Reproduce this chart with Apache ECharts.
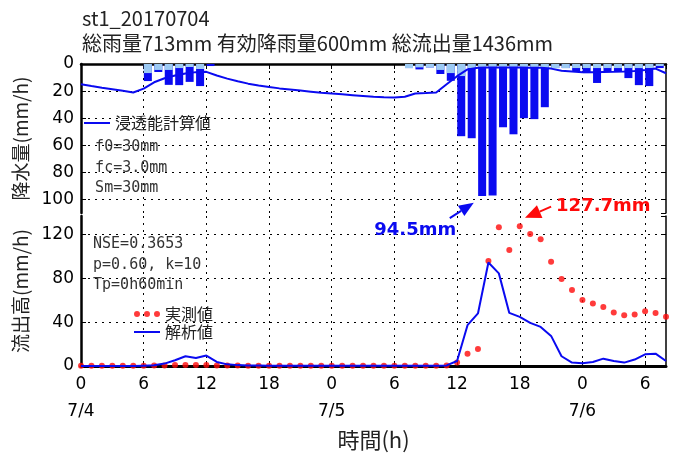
<!DOCTYPE html>
<html><head><meta charset="utf-8">
<script src="https://cdn.jsdelivr.net/npm/echarts@6/dist/echarts.min.js"></script>
<style>html,body{margin:0;padding:0;background:#fff}#c{width:680px;height:455px}</style>
</head><body><div id="c"></div>
<script>
// ---- data (hourly, hour 0 = 7/4 0:00) ----
const dateLabels = ['7/4', '7/5', '7/6'];
// rainfall loss (light blue) per hour h0..h55, mm/h
const rainLoss = [0,0,0,0,0,0, 6.7,4.4,4.4,3.0,2.2,3.7,0,
  0,0,0,0,0,0,0,0,0,0,0,0,0,0,0,0,0,0,
  3.0,2.5,2.5,4.4,6.7,8.9,3.0,3.0,3.0,3.0,3.0,3.0,3.0,3.0,
  3.0,3.0,3.0,3.0,3.0,3.0,3.0,3.0,3.0,3.0,1.5];
// effective rainfall (dark blue) per hour h0..h55, mm/h
const rainEff = [0,0,0,0,0,0, 5.9,1.5,11,12.6,11,12.6,1.5,
  0,0,0,0,0,0,0,0,0,0,0,0,0,0,0,0,0,0,
  0,1.5,0,3.0,5.7,44.4,51.8,94.5,94,43.7,48.9,37,37.7,28.9,
  0,0,2.9,3.7,11,2.9,2.9,7.4,12.6,13.3,1.5];
// infiltration capacity (浸透能計算値) h0..h56
const infil = [15,16.3,17.5,18.6,19.8,21,18.2,13.5,10.5,8.5,7,6,5.8,8.5,10.8,12.8,14.5,15.8,17,18,
  18.8,19.6,20.4,21.2,21.8,22.4,23,23.6,24.2,24.6,24.8,24.2,21.8,21.5,21,15,9,4,2.8,2.6,
  2.6,2.6,2.6,2.7,2.8,3.4,5,5.6,6,6,5.9,5.8,5.6,5.2,4.4,3.4,6.8];
// observed runoff (実測値) h0..h56
const observed = [0.3,0.3,0.3,0.3,0.3,0.3,0.3,0.4,0.5,0.8,0.9,0.9,0.8,0.5,0.4,0.4,0.3,0.3,0.3,0.3,
  0.3,0.3,0.3,0.3,0.3,0.3,0.3,0.3,0.3,0.3,0.3,0.3,0.3,0.3,0.3,0.5,
  3.1,11.3,15.6,95.9,126.7,106,127.7,120.6,115.7,95.3,79.4,69.3,60.2,57.1,54,48.9,46.4,47,50.1,48.5,44.9];
// simulated runoff (解析値) h0..h56
const simulated = [0,0,0,0,0,0,0.3,0.6,2.2,5.2,8.9,7.3,9.5,3.7,1.5,0.8,0.5,0.4,0.3,0.3,
  0.2,0.2,0.2,0.2,0.2,0.2,0.2,0.2,0.2,0.2,0.2,0.2,0.2,0.2,0.3,0.5,
  4.6,37.3,48,94.5,84.6,48.5,44.9,39.4,35.7,27.5,8.9,3.1,2.5,3.7,6.7,4.6,3.1,5.9,10.7,11.3,4.6];

const BLUE = '#0a0af0', LIGHT = '#9ccaf4', RED = '#ff0a0a';
const CJK = 'Noto Sans CJK JP', MONO = 'DejaVu Sans Mono', SANS = 'DejaVu Sans';
const dotted = { type: [2, 5], color: '#000', width: 1 };

const chart = echarts.init(document.getElementById('c'), null, { renderer: 'canvas' });

const xBase = {
  type: 'value', min: 0, max: 56, interval: 6,
  axisLine: { lineStyle: { color: '#000', width: 2.5 } },
  axisTick: { inside: true, length: 5, lineStyle: { color: '#000' } },
  splitLine: { show: true, lineStyle: dotted, showMinLine: false, showMaxLine: false }
};
const yRight = (grid, opts) => Object.assign({
  gridIndex: grid, type: 'value', position: 'right',
  axisLine: { show: true, lineStyle: { color: '#000', width: 1.5 } },
  axisTick: { show: true, inside: true, length: 5, lineStyle: { color: '#000' } },
  axisLabel: { show: false }, splitLine: { show: false }
}, opts);
const legendText = { fontSize: 16, fontFamily: CJK, color: '#222' };

chart.setOption({
  animation: false,
  backgroundColor: '#fff',
  title: {
    text: 'st1_20170704\n総雨量713mm 有効降雨量600mm 総流出量1436mm',
    left: 82, top: 6, padding: 0,
    textStyle: { fontSize: 20, lineHeight: 25, fontWeight: 'normal', fontFamily: CJK, color: '#222' }
  },
  grid: [
    { left: 81, right: 14, top: 64, height: 149 },
    { left: 81, right: 14, top: 216, height: 150 }
  ],
  legend: [
    { left: 84, top: 115, padding: 0, itemWidth: 26, itemHeight: 2, icon: 'rect',
      data: ['浸透能計算値'], textStyle: legendText },
    { left: 134, top: 306, padding: 0, itemWidth: 26, itemHeight: 6,
      data: [{ name: '実測値', icon: 'path://M0,3a3,3 0 1,0 6,0a3,3 0 1,0 -6,0M10,3a3,3 0 1,0 6,0a3,3 0 1,0 -6,0M20,3a3,3 0 1,0 6,0a3,3 0 1,0 -6,0' }],
      textStyle: legendText },
    { left: 134, top: 324, padding: 0, itemWidth: 26, itemHeight: 2, icon: 'rect',
      data: ['解析値'], textStyle: legendText }
  ],
  xAxis: [
    Object.assign({}, xBase, { gridIndex: 0, position: 'top', axisLabel: { show: false } }),
    Object.assign({}, xBase, {
      gridIndex: 1, position: 'bottom',
      axisLine: { lineStyle: { color: '#000', width: 3 } },
      axisLabel: {
        margin: 5, fontSize: 17, lineHeight: 27, fontFamily: SANS, color: '#000', showMaxLabel: false,
        formatter: v => {
          const hh = v % 24;
          return hh === 0 ? hh + '\n' + dateLabels[v / 24] : String(hh);
        }
      },
      name: '時間(h)', nameLocation: 'middle', nameGap: 63,
      nameTextStyle: { fontSize: 22, fontFamily: CJK, color: '#222' }
    })
  ],
  yAxis: [
    { gridIndex: 0, type: 'value', inverse: true, min: 0, max: 110, interval: 20, position: 'left',
      axisLine: { show: true, lineStyle: { color: '#000', width: 2.5 } },
      axisTick: { show: true, inside: true, length: 5, lineStyle: { color: '#000' } },
      axisLabel: { fontSize: 17, fontFamily: SANS, color: '#000', margin: 7, showMaxLabel: false },
      splitLine: { show: true, lineStyle: dotted, showMinLine: false, showMaxLine: false },
      name: '降水量(mm/h)', nameLocation: 'middle', nameGap: 50, nameRotate: 90,
      nameTextStyle: { fontSize: 19, fontFamily: CJK, color: '#222' } },
    yRight(0, { inverse: true, min: 0, max: 110, interval: 20 }),
    { gridIndex: 1, type: 'value', min: 0, max: 137, interval: 40, position: 'left',
      axisLine: { show: true, lineStyle: { color: '#000', width: 2.5 } },
      axisTick: { show: true, inside: true, length: 5, lineStyle: { color: '#000' } },
      axisLabel: { fontSize: 17, fontFamily: SANS, color: '#000', margin: 7, showMaxLabel: false },
      splitLine: { show: true, lineStyle: dotted, showMinLine: false, showMaxLine: false },
      name: '流出高(mm/h)', nameLocation: 'middle', nameGap: 50, nameRotate: 90,
      nameTextStyle: { fontSize: 19, fontFamily: CJK, color: '#222' } },
    yRight(1, { min: 0, max: 137, interval: 40 })
  ],
  series: [
    // total rainfall bar (effective part shows below the loss part)
    { name: '有効降雨', type: 'bar', xAxisIndex: 0, yAxisIndex: 0, barWidth: 8, barGap: '-100%',
      itemStyle: { color: BLUE }, data: rainEff.map((v, h) => [h + 0.4, +(v + rainLoss[h]).toFixed(2)]) },
    { name: '損失雨量', type: 'bar', xAxisIndex: 0, yAxisIndex: 0, barWidth: 8, barGap: '-100%',
      itemStyle: { color: LIGHT }, data: rainLoss.map((v, h) => [h + 0.4, v]) },
    { name: '浸透能計算値', type: 'line', xAxisIndex: 0, yAxisIndex: 0, symbol: 'none',
      lineStyle: { color: BLUE, width: 2 }, itemStyle: { color: BLUE }, z: 5,
      data: infil.map((v, h) => [h, v]) },
    { name: '実測値', type: 'scatter', xAxisIndex: 1, yAxisIndex: 2, symbolSize: 6,
      itemStyle: { color: RED }, z: 4, data: observed.map((v, h) => [h, v]) },
    { name: '解析値', type: 'line', xAxisIndex: 1, yAxisIndex: 2, symbol: 'none',
      lineStyle: { color: BLUE, width: 2 }, itemStyle: { color: BLUE }, z: 5,
      data: simulated.map((v, h) => [h, v]) }
  ]
});

// ---- annotations placed through the chart's own scales ----
const px = (grid, pt) => chart.convertToPixel({ gridIndex: grid }, pt);
function arrow(tail, tip, color, headLen, headW, lw) {
  const dx = tip[0] - tail[0], dy = tip[1] - tail[1];
  const L = Math.hypot(dx, dy), ux = dx / L, uy = dy / L;
  const bx = tip[0] - ux * headLen, by = tip[1] - uy * headLen;
  const nx = -uy * headW / 2, ny = ux * headW / 2;
  return [
    { type: 'line', shape: { x1: tail[0], y1: tail[1], x2: bx, y2: by }, style: { stroke: color, lineWidth: lw } },
    { type: 'polygon', shape: { points: [[tip[0], tip[1]], [bx + nx, by + ny], [bx - nx, by - ny]] }, style: { fill: color } }
  ];
}
const txt = (x, y, text, font, color, align) => ({
  type: 'text', x, y, style: { text, font, fill: color, align: align || 'left', verticalAlign: 'middle' }
});
const left0 = px(0, [1.35, 0])[0];
const g = [];
g.push(txt(left0, px(0, [0, 61.5])[1], 'f0=30mm', '15px "' + MONO + '"', '#333'));
g.push(txt(left0, px(0, [0, 76.8])[1], 'fc=3.0mm', '15px "' + MONO + '"', '#333'));
g.push(txt(left0, px(0, [0, 91.5])[1], 'Sm=30mm', '15px "' + MONO + '"', '#333'));
const left1 = px(1, [1.15, 0])[0];
g.push(txt(left1, px(1, [0, 111])[1], 'NSE=0.3653', '15px "' + MONO + '"', '#333'));
g.push(txt(left1, px(1, [0, 92.5])[1], 'p=0.60, k=10', '15px "' + MONO + '"', '#333'));
g.push(txt(left1, px(1, [0, 73.5])[1], 'Tp=0h60min', '15px "' + MONO + '"', '#333'));
const p94 = px(1, [32.0, 124]);
g.push(txt(p94[0], p94[1], '94.5mm', 'bold 18px "' + SANS + '"', BLUE, 'center'));
g.push(...arrow(px(1, [35.3, 135]), px(0, [37.6, 102.5]), BLUE, 15, 12, 2));
const p127 = px(1, [50.0, 146]);
g.push(txt(p127[0], p127[1], '127.7mm', 'bold 18px "' + SANS + '"', RED, 'center'));
g.push(...arrow(px(1, [45.0, 145.5]), px(1, [42.5, 135.3]), RED, 16, 14, 2));
chart.setOption({ graphic: g });
</script></body></html>
